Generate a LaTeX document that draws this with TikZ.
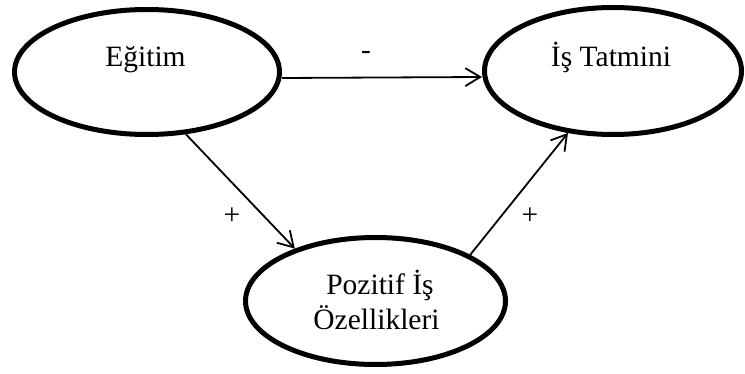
\documentclass[tikz,border=0pt]{standalone}
\usepackage{fontspec}
\setmainfont{Liberation Serif}
\usetikzlibrary{shapes.geometric,arrows.meta}
\tikzset{
  oval/.style={draw,ellipse,line width=5pt,inner sep=0pt},
  lbl/.style={font=\fontsize{29.5}{34}\selectfont,inner sep=0pt,anchor=base},
  sgn/.style={font=\fontsize{29.5}{34}\selectfont,inner sep=0pt},
  arr/.style={line width=1.8pt,-{Straight Barb[length=15pt,width=18pt,line width=1.8pt]}}
}
\begin{document}
\begin{tikzpicture}[x=1pt,y=-1pt]
\useasboundingbox (0,0) rectangle (745,374);
\node[oval,minimum width=265pt,minimum height=125pt] (e) at (147,72) {};
\node[oval,minimum width=257pt,minimum height=127pt] (t) at (613,71) {};
\node[oval,minimum width=260pt,minimum height=127pt] (p) at (375.5,301) {};
\node[lbl] (etx) at (145.5,67) {Eğitim};
\node[lbl] (ttx) at (611,67) {İş Tatmini};
\node[lbl] (ptx1) at (380,295) {Pozitif İş};
\node[lbl] (ptx2) at (376.5,330) {Özellikleri};
\draw[arr] ([yshift=-6pt]e.east) -- ([yshift=-6pt]t.west);
\draw[arr] (e.-58.4) -- (p.147.1);
\draw[arr] (p.26.7) -- (t.234.2);
\node[sgn] (m1) at (366,55) {-};
\node[sgn] (p1) at (232,216) {+};
\node[sgn] (p2) at (530,216) {+};
\end{tikzpicture}
\end{document}
